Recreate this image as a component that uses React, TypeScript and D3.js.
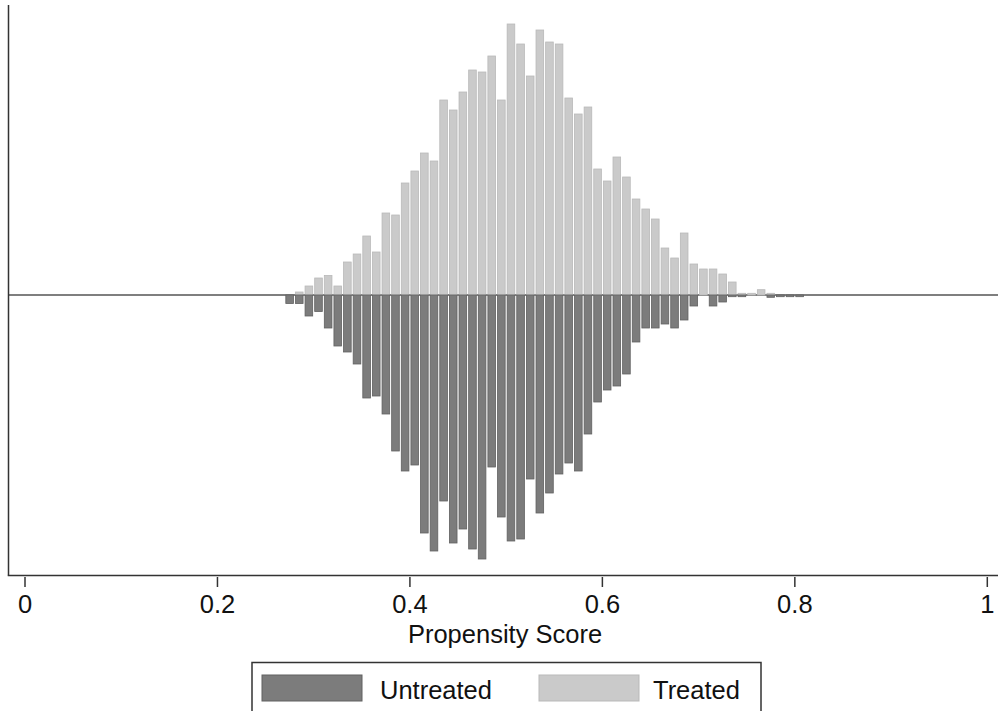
import React from 'react';
import * as d3 from 'd3';

// histogram bins of width 0.01, keyed by their left edge
const binWidth = 0.01;

const treatedStart = 0.28;
const treated = [
  3, 9, 17, 19.5, 9, 33, 41, 59, 43, 82,
  80, 112, 124, 142, 134, 195, 185, 203, 225, 223,
  239, 195, 271, 251, 219, 265, 253, 251, 197, 181,
  188, 126, 114, 138, 118, 96, 86, 76, 47, 37,
  62, 31, 26, 26, 21, 13, 1.7, 1.7, 5.3, 1.7
];

const untreatedStart = 0.27;
const untreated = [
  8.5, 8.5, 21, 16.5, 33, 51, 57, 69, 103, 101,
  119, 156, 176, 170, 238, 256, 206, 248, 234, 254,
  264, 172, 222, 246, 244, 184, 218, 198, 179, 168,
  176, 139, 107, 95, 91, 79, 47, 33, 33, 29,
  33, 25, 11, 0, 11, 7, 1.7, 1.7, 0, 0,
  2.3, 1.7, 1.7, 1.7
];

const xTicks = [0, 0.2, 0.4, 0.6, 0.8, 1];
const legendItems = ['Untreated', 'Treated'];

const width = 998;
const height = 711;
const font = '"Liberation Sans", Arial, Helvetica, sans-serif';

const colors = {
  untreated: { fill: '#7c7c7c', stroke: '#616161' },
  treated: { fill: '#cacaca', stroke: '#b9b9b9' },
};

const toBins = (start: number, values: number[]) =>
  values.map((v, i) => ({ x0: +(start + i * binWidth).toFixed(2), value: v }));

export default function App() {
  const xScale = d3.scaleLinear().domain([0, 1]).range([25, 987.3]);
  const yScale = d3.scaleLinear().domain([-280, 290]).range([575, 5]);

  const y0 = yScale(0);
  const axisX = 8.5;
  const axisY = 575.5;

  const treatedBins = toBins(treatedStart, treated).filter(d => d.value > 0);
  const untreatedBins = toBins(untreatedStart, untreated).filter(d => d.value > 0);

  const barX = (x0: number) => xScale(x0) + 1;
  const barW = xScale(binWidth) - xScale(0) - 2;

  return (
    <svg
      width={width}
      height={height}
      style={{ position: 'absolute', left: 0, top: 0, background: '#fff' }}
      fontFamily={font}>
      {/* zero line */}
      <line x1={axisX} x2={width} y1={y0} y2={y0} stroke="#555" strokeWidth={1.5} />

      {treatedBins.map(d => (
        <rect
          key={'t' + d.x0}
          x={barX(d.x0)}
          y={yScale(d.value)}
          width={barW}
          height={y0 - yScale(d.value)}
          fill={colors.treated.fill}
          stroke={colors.treated.stroke}
          strokeWidth={0.8}
        />
      ))}
      {untreatedBins.map(d => (
        <rect
          key={'u' + d.x0}
          x={barX(d.x0)}
          y={y0}
          width={barW}
          height={yScale(-d.value) - y0}
          fill={colors.untreated.fill}
          stroke={colors.untreated.stroke}
          strokeWidth={0.8}
        />
      ))}

      {/* axes */}
      <line x1={axisX} x2={axisX} y1={5} y2={axisY} stroke="#333" strokeWidth={1.5} />
      <line x1={axisX - 0.75} x2={width} y1={axisY} y2={axisY} stroke="#333" strokeWidth={1.5} />
      {xTicks.map(t => (
        <g key={t}>
          <line x1={xScale(t)} x2={xScale(t)} y1={577} y2={587} stroke="#333" strokeWidth={1.5} />
          <text x={xScale(t)} y={613} textAnchor="middle" fontSize={25.5} fill="#111">
            {d3.format('~g')(t)}
          </text>
        </g>
      ))}
      <text x={505} y={643} textAnchor="middle" fontSize={25.5} fill="#111">
        Propensity Score
      </text>

      {/* legend */}
      <rect x={252} y={662.5} width={509} height={60} fill="#fff" stroke="#333" strokeWidth={1.5} />
      {legendItems.map((name, i) => {
        const c = i === 0 ? colors.untreated : colors.treated;
        const left = i === 0 ? 262 : 539;
        return (
          <g key={name}>
            <rect x={left} y={675} width={100} height={26} fill={c.fill} stroke={c.stroke} strokeWidth={1} />
            <text x={left + (i === 0 ? 118 : 114)} y={699} fontSize={25.5} fill="#111">
              {name}
            </text>
          </g>
        );
      })}
    </svg>
  );
}
